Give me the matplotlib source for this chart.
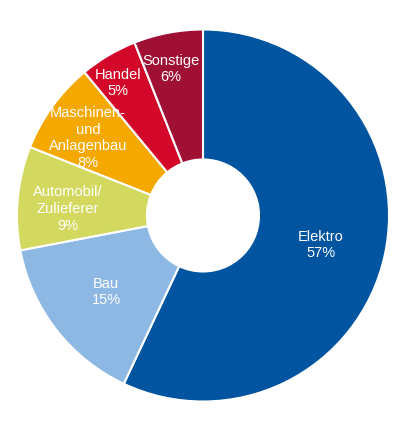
import matplotlib.pyplot as plt

# Anteile nach Branche (%)
labels = ["Elektro", "Bau", "Automobil/\nZulieferer", "Maschinen-\nund\nAnlagenbau", "Handel", "Sonstige"]
values = [57, 15, 9, 8, 5, 6]
colors = ["#0054A0", "#8DB8E4", "#D2D95E", "#F5A800", "#D3072A", "#A01035"]

# Textpositionen in Pixeln (Bildkoordinaten)
label_pos = [(321, 245), (106, 292), (68, 209), (88, 138), (118, 83), (171, 69)]

fig = plt.figure(figsize=(4.0, 4.27), dpi=100)
ax = fig.add_axes([0, 0, 1, 1])

cx, cy, r, hole = 203, 216.5, 186, 56
# y-Achse ist invertiert: startangle=-90 zeigt nach oben, counterclock=True läuft im Bild im Uhrzeigersinn
ax.pie(values, colors=colors, startangle=-90, counterclock=True,
       center=(cx, cy), radius=r, frame=True,
       wedgeprops=dict(width=r - hole, edgecolor="white", linewidth=1.5))

for lab, v, (x, y) in zip(labels, values, label_pos):
    ax.text(x, y, "%s\n%d%%" % (lab, v), ha="center", va="center",
            color="white", fontsize=10.5, family="Liberation Sans", linespacing=1.27)

ax.set_xlim(0, 400)
ax.set_ylim(427, 0)
ax.set_aspect("equal")
ax.axis("off")

fig.savefig("out.png", dpi=100, facecolor="white")
